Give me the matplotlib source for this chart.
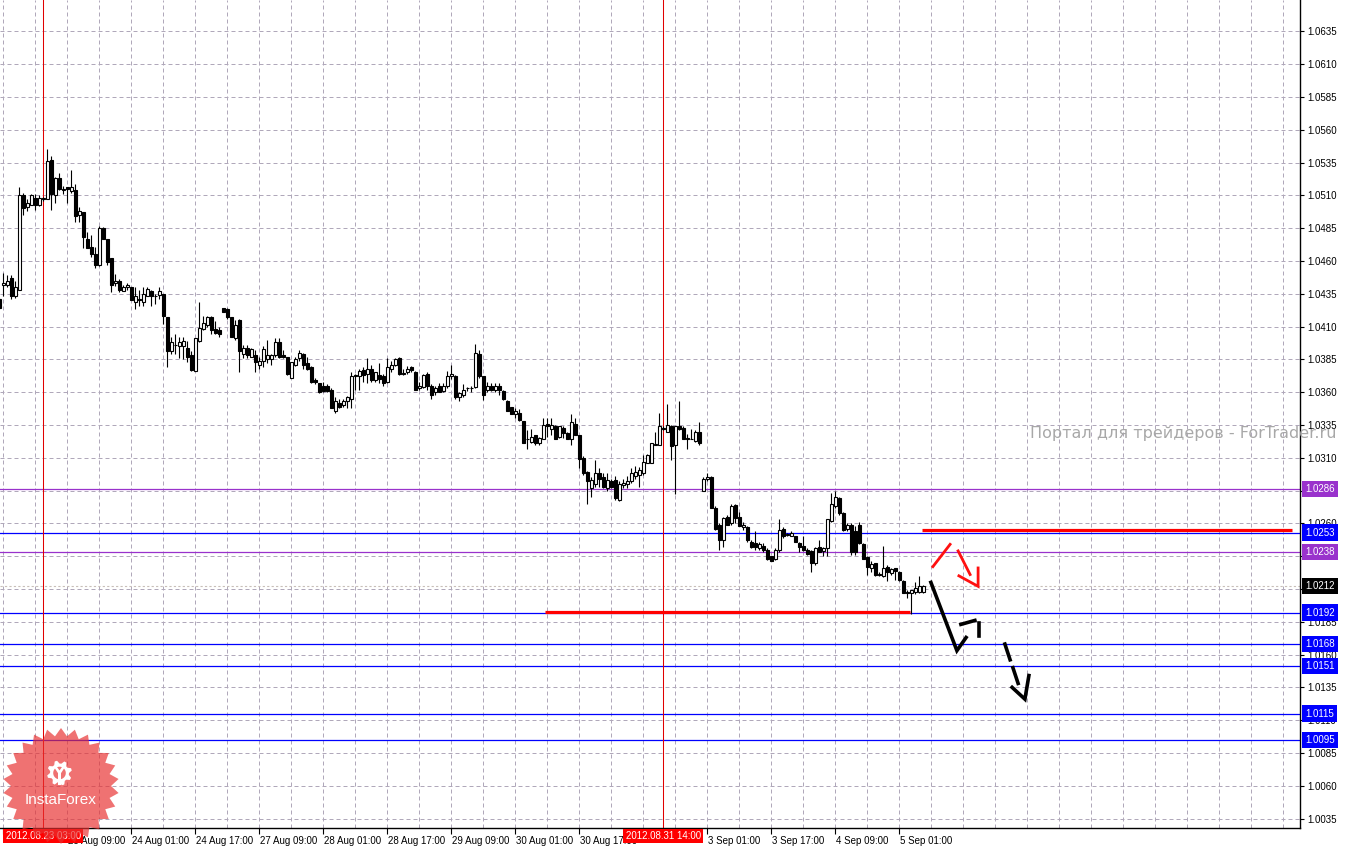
import matplotlib
matplotlib.use("Agg")
import matplotlib.pyplot as plt
import matplotlib.transforms as mtransforms
from matplotlib.patches import Polygon, Circle
import numpy as np

plt.rcParams['font.family'] = ['Liberation Sans', 'DejaVu Sans']

# hourly candles, 22 Aug 16:00 .. 5 Sep 06:00 (weekend bars skipped)
opens = [1.0431, 1.0442, 1.0442, 1.0447, 1.0433, 1.0438, 1.0510, 1.0501, 1.0503, 1.0508,
         1.0503, 1.0508, 1.0507, 1.0537, 1.0510, 1.0523, 1.0514, 1.0516, 1.0513, 1.0514,
         1.0495, 1.0497, 1.0477, 1.0471, 1.0465, 1.0457, 1.0485, 1.0477, 1.0462, 1.0443,
         1.0445, 1.0437, 1.0440, 1.0440, 1.0429, 1.0431, 1.0429, 1.0433, 1.0437, 1.0433,
         1.0434, 1.0435, 1.0417, 1.0391, 1.0396, 1.0395, 1.0395, 1.0394, 1.0388, 1.0376,
         1.0399, 1.0408, 1.0411, 1.0417, 1.0408, 1.0407, 1.0424, 1.0423, 1.0417, 1.0401,
         1.0415, 1.0389, 1.0394, 1.0387, 1.0388, 1.0381, 1.0384, 1.0385, 1.0385, 1.0388,
         1.0398, 1.0388, 1.0387, 1.0371, 1.0381, 1.0386, 1.0389, 1.0382, 1.0379, 1.0369,
         1.0367, 1.0365, 1.0365, 1.0362, 1.0346, 1.0352, 1.0350, 1.0353, 1.0355, 1.0373,
         1.0372, 1.0377, 1.0374, 1.0378, 1.0369, 1.0373, 1.0372, 1.0368, 1.0378, 1.0381,
         1.0386, 1.0374, 1.0375, 1.0379, 1.0375, 1.0363, 1.0364, 1.0374, 1.0365, 1.0360,
         1.0365, 1.0361, 1.0365, 1.0372, 1.0372, 1.0356, 1.0358, 1.0363, 1.0363, 1.0364,
         1.0389, 1.0372, 1.0362, 1.0365, 1.0362, 1.0365, 1.0361, 1.0353, 1.0349, 1.0343,
         1.0344, 1.0338, 1.0324, 1.0322, 1.0327, 1.0321, 1.0324, 1.0336, 1.0332, 1.0334,
         1.0326, 1.0333, 1.0329, 1.0324, 1.0336, 1.0327, 1.0310, 1.0299, 1.0287, 1.0290,
         1.0298, 1.0295, 1.0287, 1.0292, 1.0293, 1.0278, 1.0289, 1.0290, 1.0292, 1.0296,
         1.0297, 1.0298, 1.0306, 1.0306, 1.0320, 1.0320, 1.0333, 1.0330, 1.0334, 1.0320,
         1.0334, 1.0333, 1.0325, 1.0324, 1.0323, 1.0330, 1.0285, 1.0294, 1.0295, 1.0272,
         1.0259, 1.0247, 1.0265, 1.0260, 1.0274, 1.0265, 1.0257, 1.0257, 1.0246, 1.0245,
         1.0241, 1.0243, 1.0240, 1.0235, 1.0233, 1.0240, 1.0256, 1.0251, 1.0250, 1.0250,
         1.0245, 1.0243, 1.0240, 1.0239, 1.0230, 1.0242, 1.0239, 1.0241, 1.0262, 1.0273,
         1.0279, 1.0268, 1.0256, 1.0259, 1.0254, 1.0259, 1.0244, 1.0234, 1.0226, 1.0230,
         1.0221, 1.0220, 1.0227, 1.0222, 1.0226, 1.0223, 1.0216, 1.0208, 1.0207, 1.0208,
         1.0208, 1.0208]
highs = [1.0432, 1.0451, 1.0449, 1.0449, 1.0445, 1.0516, 1.0512, 1.0507, 1.0511, 1.0511,
         1.0510, 1.0509, 1.0545, 1.0540, 1.0524, 1.0527, 1.0517, 1.0516, 1.0529, 1.0519,
         1.0501, 1.0497, 1.0482, 1.0480, 1.0471, 1.0487, 1.0486, 1.0477, 1.0462, 1.0450,
         1.0446, 1.0442, 1.0443, 1.0440, 1.0440, 1.0438, 1.0440, 1.0440, 1.0438, 1.0435,
         1.0440, 1.0435, 1.0417, 1.0402, 1.0404, 1.0402, 1.0402, 1.0399, 1.0391, 1.0401,
         1.0429, 1.0418, 1.0418, 1.0418, 1.0414, 1.0410, 1.0424, 1.0424, 1.0417, 1.0415,
         1.0416, 1.0396, 1.0396, 1.0394, 1.0392, 1.0387, 1.0395, 1.0400, 1.0389, 1.0401,
         1.0401, 1.0392, 1.0387, 1.0383, 1.0387, 1.0392, 1.0390, 1.0387, 1.0380, 1.0371,
         1.0367, 1.0368, 1.0366, 1.0363, 1.0356, 1.0355, 1.0355, 1.0357, 1.0375, 1.0374,
         1.0378, 1.0379, 1.0386, 1.0381, 1.0375, 1.0382, 1.0374, 1.0386, 1.0384, 1.0386,
         1.0387, 1.0378, 1.0380, 1.0380, 1.0376, 1.0368, 1.0374, 1.0375, 1.0366, 1.0365,
         1.0367, 1.0367, 1.0376, 1.0381, 1.0373, 1.0360, 1.0366, 1.0364, 1.0365, 1.0397,
         1.0392, 1.0372, 1.0368, 1.0367, 1.0367, 1.0367, 1.0362, 1.0354, 1.0349, 1.0348,
         1.0347, 1.0338, 1.0331, 1.0332, 1.0327, 1.0326, 1.0340, 1.0340, 1.0340, 1.0335,
         1.0334, 1.0334, 1.0330, 1.0343, 1.0340, 1.0327, 1.0311, 1.0300, 1.0295, 1.0308,
         1.0302, 1.0298, 1.0298, 1.0294, 1.0296, 1.0292, 1.0294, 1.0296, 1.0302, 1.0304,
         1.0303, 1.0312, 1.0313, 1.0321, 1.0330, 1.0344, 1.0334, 1.0351, 1.0335, 1.0334,
         1.0353, 1.0334, 1.0328, 1.0332, 1.0331, 1.0337, 1.0295, 1.0298, 1.0296, 1.0273,
         1.0260, 1.0265, 1.0266, 1.0275, 1.0275, 1.0269, 1.0261, 1.0258, 1.0247, 1.0254,
         1.0246, 1.0245, 1.0241, 1.0235, 1.0241, 1.0263, 1.0257, 1.0253, 1.0254, 1.0250,
         1.0246, 1.0250, 1.0241, 1.0240, 1.0242, 1.0247, 1.0242, 1.0263, 1.0283, 1.0285,
         1.0280, 1.0269, 1.0260, 1.0260, 1.0258, 1.0261, 1.0245, 1.0235, 1.0231, 1.0230,
         1.0223, 1.0243, 1.0228, 1.0226, 1.0226, 1.0224, 1.0217, 1.0209, 1.0209, 1.0215,
         1.0220, 1.0213]
lows = [1.0423, 1.0433, 1.0440, 1.0431, 1.0432, 1.0438, 1.0495, 1.0498, 1.0503, 1.0499,
        1.0502, 1.0506, 1.0507, 1.0499, 1.0504, 1.0514, 1.0511, 1.0504, 1.0512, 1.0490,
        1.0490, 1.0470, 1.0470, 1.0463, 1.0455, 1.0456, 1.0477, 1.0457, 1.0436, 1.0441,
        1.0436, 1.0437, 1.0438, 1.0430, 1.0423, 1.0426, 1.0426, 1.0433, 1.0426, 1.0427,
        1.0431, 1.0412, 1.0379, 1.0389, 1.0389, 1.0386, 1.0385, 1.0383, 1.0376, 1.0376,
        1.0398, 1.0407, 1.0410, 1.0404, 1.0404, 1.0402, 1.0421, 1.0416, 1.0402, 1.0400,
        1.0375, 1.0386, 1.0386, 1.0387, 1.0375, 1.0378, 1.0379, 1.0382, 1.0381, 1.0387,
        1.0386, 1.0386, 1.0373, 1.0371, 1.0380, 1.0384, 1.0378, 1.0377, 1.0367, 1.0366,
        1.0359, 1.0360, 1.0360, 1.0348, 1.0344, 1.0348, 1.0349, 1.0348, 1.0348, 1.0362,
        1.0362, 1.0368, 1.0367, 1.0368, 1.0368, 1.0367, 1.0365, 1.0367, 1.0375, 1.0380,
        1.0373, 1.0373, 1.0374, 1.0375, 1.0362, 1.0362, 1.0363, 1.0362, 1.0355, 1.0358,
        1.0360, 1.0360, 1.0363, 1.0370, 1.0355, 1.0353, 1.0356, 1.0361, 1.0360, 1.0363,
        1.0371, 1.0354, 1.0360, 1.0361, 1.0360, 1.0358, 1.0354, 1.0346, 1.0343, 1.0340,
        1.0338, 1.0321, 1.0317, 1.0321, 1.0320, 1.0320, 1.0324, 1.0326, 1.0327, 1.0324,
        1.0325, 1.0325, 1.0324, 1.0320, 1.0327, 1.0302, 1.0297, 1.0275, 1.0280, 1.0288,
        1.0288, 1.0287, 1.0285, 1.0287, 1.0278, 1.0277, 1.0287, 1.0287, 1.0291, 1.0294,
        1.0288, 1.0297, 1.0306, 1.0306, 1.0320, 1.0320, 1.0331, 1.0330, 1.0308, 1.0282,
        1.0331, 1.0324, 1.0317, 1.0324, 1.0322, 1.0320, 1.0285, 1.0292, 1.0272, 1.0255,
        1.0240, 1.0242, 1.0259, 1.0259, 1.0260, 1.0258, 1.0255, 1.0246, 1.0241, 1.0240,
        1.0240, 1.0238, 1.0232, 1.0231, 1.0232, 1.0238, 1.0249, 1.0250, 1.0250, 1.0246,
        1.0238, 1.0239, 1.0236, 1.0223, 1.0228, 1.0238, 1.0235, 1.0235, 1.0261, 1.0272,
        1.0266, 1.0254, 1.0254, 1.0236, 1.0236, 1.0244, 1.0233, 1.0221, 1.0223, 1.0220,
        1.0220, 1.0219, 1.0216, 1.0221, 1.0217, 1.0216, 1.0207, 1.0203, 1.0191, 1.0206,
        1.0207, 1.0207]
closes = [1.0424, 1.0443, 1.0445, 1.0433, 1.0440, 1.0510, 1.0500, 1.0504, 1.0510, 1.0503,
          1.0508, 1.0507, 1.0536, 1.0511, 1.0523, 1.0515, 1.0515, 1.0515, 1.0516, 1.0494,
          1.0498, 1.0478, 1.0470, 1.0465, 1.0457, 1.0485, 1.0477, 1.0459, 1.0442, 1.0445,
          1.0438, 1.0440, 1.0442, 1.0430, 1.0433, 1.0430, 1.0435, 1.0439, 1.0433, 1.0433,
          1.0437, 1.0418, 1.0391, 1.0398, 1.0396, 1.0398, 1.0399, 1.0387, 1.0377, 1.0401,
          1.0409, 1.0413, 1.0417, 1.0407, 1.0405, 1.0404, 1.0421, 1.0417, 1.0402, 1.0411,
          1.0391, 1.0394, 1.0388, 1.0393, 1.0383, 1.0384, 1.0393, 1.0388, 1.0388, 1.0398,
          1.0387, 1.0387, 1.0374, 1.0383, 1.0385, 1.0390, 1.0381, 1.0378, 1.0368, 1.0368,
          1.0360, 1.0361, 1.0361, 1.0348, 1.0353, 1.0349, 1.0353, 1.0356, 1.0372, 1.0372,
          1.0376, 1.0373, 1.0378, 1.0369, 1.0375, 1.0370, 1.0367, 1.0379, 1.0381, 1.0385,
          1.0374, 1.0374, 1.0378, 1.0377, 1.0362, 1.0365, 1.0373, 1.0365, 1.0358, 1.0363,
          1.0360, 1.0365, 1.0372, 1.0374, 1.0356, 1.0359, 1.0362, 1.0363, 1.0363, 1.0390,
          1.0372, 1.0358, 1.0365, 1.0362, 1.0365, 1.0362, 1.0355, 1.0346, 1.0343, 1.0346,
          1.0339, 1.0321, 1.0324, 1.0326, 1.0321, 1.0325, 1.0335, 1.0334, 1.0335, 1.0324,
          1.0334, 1.0329, 1.0324, 1.0337, 1.0327, 1.0309, 1.0298, 1.0292, 1.0293, 1.0298,
          1.0294, 1.0288, 1.0293, 1.0288, 1.0279, 1.0290, 1.0291, 1.0292, 1.0298, 1.0299,
          1.0301, 1.0307, 1.0312, 1.0321, 1.0320, 1.0334, 1.0332, 1.0335, 1.0319, 1.0334,
          1.0332, 1.0324, 1.0324, 1.0324, 1.0330, 1.0321, 1.0294, 1.0295, 1.0272, 1.0256,
          1.0247, 1.0264, 1.0259, 1.0273, 1.0264, 1.0258, 1.0259, 1.0247, 1.0242, 1.0242,
          1.0244, 1.0240, 1.0233, 1.0231, 1.0240, 1.0255, 1.0250, 1.0252, 1.0253, 1.0246,
          1.0242, 1.0240, 1.0237, 1.0230, 1.0241, 1.0238, 1.0241, 1.0263, 1.0275, 1.0280,
          1.0268, 1.0255, 1.0259, 1.0238, 1.0238, 1.0245, 1.0233, 1.0227, 1.0229, 1.0221,
          1.0221, 1.0226, 1.0223, 1.0225, 1.0224, 1.0217, 1.0207, 1.0207, 1.0209, 1.0211,
          1.0212, 1.0212]

# time ticks every 16 bars; the two covered by the red date boxes stay unlabeled
time_ticks = [1, 17, 33, 49, 65, 81, 97, 113, 129, 145, 161, 177, 193, 209, 225]
time_labels = ['', '23 Aug 09:00', '24 Aug 01:00', '24 Aug 17:00', '27 Aug 09:00',
               '28 Aug 01:00', '28 Aug 17:00', '29 Aug 09:00', '30 Aug 01:00', '30 Aug 17:00',
               '', '3 Sep 01:00', '3 Sep 17:00', '4 Sep 09:00', '5 Sep 01:00']
price_ticks = [1.0035, 1.0060, 1.0085, 1.0110, 1.0135, 1.0160, 1.0185, 1.0210, 1.0235, 1.0260,
               1.0285, 1.0310, 1.0335, 1.0360, 1.0385, 1.0410, 1.0435, 1.0460, 1.0485, 1.0510,
               1.0535, 1.0560, 1.0585, 1.0610, 1.0635]

# horizontal levels and their colours
level_prices = [1.0286, 1.0253, 1.0238, 1.0192, 1.0168, 1.0151, 1.0115, 1.0095]
level_colors = ['#9932cc', '#0000ff', '#9932cc', '#0000ff', '#0000ff', '#0000ff', '#0000ff', '#0000ff']
bid_price = 1.0212

# vertical marker lines
vline_bars = [11, 166]
vline_labels = ['2012.08.23 03:00', '2012.08.31 14:00']

# hand drawn red segments (bar, price)
support_seg = ([136.4, 227.7], [1.01925, 1.01925])
resist_seg = ([230.7, 323.2], [1.0255, 1.0255])

# hand drawn forecast strokes (bar, price)
red_strokes = [([233.4, 237.7], [1.0227, 1.0244]),
               ([239.7, 242.7], [1.0239, 1.0221]),
               ([239.9, 244.7, 244.7], [1.0220, 1.0212, 1.0226])]
black_strokes = [([232.9, 239.4, 241.7], [1.0215, 1.0163, 1.0173]),
                 ([240.4, 243.9], [1.0183, 1.0186]),
                 ([244.9, 244.9], [1.0184, 1.0174]),
                 ([251.4, 252.7], [1.0168, 1.0156]),
                 ([253.4, 254.7], [1.0150, 1.0138]),
                 ([253.2, 256.4, 257.4], [1.0135, 1.0126, 1.0144])]

W, H = 1346, 847
fig = plt.figure(figsize=(W / 100, H / 100), dpi=100)
ax = fig.add_axes([0, 19 / H, 1300 / W, 828 / H])
ax.set_xlim(0.175, 325.175)
ax.set_ylim(1.00278, 1.06589)

grid_c = '#b0a8ba'
for b in range(1, 326, 8):
    ax.axvline(b, color=grid_c, lw=0.72, dashes=(4, 3), zorder=0)
for p in price_ticks:
    ax.axhline(p, color=grid_c, lw=0.72, dashes=(4, 3), zorder=0)

# candles
x = np.arange(len(opens))
o = np.array(opens)
c = np.array(closes)
up = c >= o
body_bottom = np.minimum(o, c)
body_h = np.maximum(np.abs(c - o), 0.00003)
ax.vlines(x, lows, highs, color='black', lw=0.8, zorder=3)
ax.bar(x[up], body_h[up], width=0.62, bottom=body_bottom[up], facecolor='white',
       edgecolor='black', linewidth=0.8, zorder=4)
ax.bar(x[~up], body_h[~up], width=0.62, bottom=body_bottom[~up], facecolor='black',
       edgecolor='black', linewidth=0.8, zorder=4)

# levels
ytr = ax.get_yaxis_transform()
for p, col in zip(level_prices, level_colors):
    ax.axhline(p, color=col, lw=0.9, zorder=2)
    ax.text(1.0038, p, f'{p:.4f}', transform=ytr, ha='left', va='center', color='white',
            fontsize=7, bbox=dict(boxstyle='square,pad=0.32', fc=col, ec='none'),
            clip_on=False, zorder=10)
ax.axhline(bid_price, color='#c8bfb8', lw=0.8, dashes=(2, 2), zorder=1)
ax.text(1.0038, bid_price, f'{bid_price:.4f}', transform=ytr, ha='left', va='center',
        color='white', fontsize=7, bbox=dict(boxstyle='square,pad=0.32', fc='black', ec='none'),
        clip_on=False, zorder=10)

# vertical lines with date boxes
xtr = ax.get_xaxis_transform()
for b, lab in zip(vline_bars, vline_labels):
    ax.axvline(b, color='#e00000', lw=0.75, zorder=2)
    ax.text(b, -0.0097, lab, transform=xtr, ha='center', va='center', color='white',
            fontsize=7, bbox=dict(boxstyle='square,pad=0.25', fc='#ff0000', ec='none'),
            clip_on=False, zorder=10)

ax.plot(*support_seg, color='#ff0000', lw=2.3, solid_capstyle='butt', zorder=5)
ax.plot(*resist_seg, color='#ff0000', lw=2.3, solid_capstyle='butt', zorder=5)
for xs, ys in red_strokes:
    ax.plot(xs, ys, color='#ff1010', lw=2.0, solid_joinstyle='miter', zorder=6)
for xs, ys in black_strokes:
    ax.plot(xs, ys, color='black', lw=2.6, solid_joinstyle='miter', zorder=6)

# axes styling
for s in ['top', 'left']:
    ax.spines[s].set_visible(False)
for s in ['right', 'bottom']:
    ax.spines[s].set_linewidth(1.0)
ax.yaxis.tick_right()
ax.set_yticks(price_ticks)
ax.set_yticklabels([f'{p:.4f}' for p in price_ticks])
ax.tick_params(axis='y', length=3, width=0.8, pad=2, labelsize=7, direction='out')
ax.set_xticks(time_ticks)
ax.set_xticklabels(time_labels)
ax.tick_params(axis='x', length=4, width=0.8, pad=1.5, labelsize=7, direction='out')
shift = mtransforms.ScaledTranslation(1 / 100, 0, fig.dpi_scale_trans)
for lab in ax.get_xticklabels():
    lab.set_ha('left')
    lab.set_transform(lab.get_transform() + shift)

# watermark
fig.text(1030 / W, 1 - 433 / H, 'Портал для трейдеров - ForTrader.ru', color='#a8a8a8',
         fontsize=11.5, ha='left', va='center', family='DejaVu Sans')


def fig_pts(px, py):
    return np.column_stack([np.asarray(px) / W, 1 - np.asarray(py) / H])


# InstaForex badge
cx, cy, r_out, r_in, n = 61, 786, 58, 50, 26
ang = np.linspace(0, 2 * np.pi, 2 * n, endpoint=False) + np.pi / 2
rr = np.where(np.arange(2 * n) % 2 == 0, r_out, r_in)
fig.add_artist(Polygon(fig_pts(cx + rr * np.cos(ang), cy - rr * np.sin(ang)), closed=True,
                       transform=fig.transFigure, fc='#e83030', ec='none', alpha=0.68, zorder=20))
# gear icon
gx, gy = 59.5, 773
ga = np.linspace(0, 2 * np.pi, 32, endpoint=False) + np.pi / 16
gr = np.where((np.arange(32) // 2) % 2 == 0, 12.5, 9.5)
fig.add_artist(Polygon(fig_pts(gx + gr * np.cos(ga), gy - gr * np.sin(ga)), closed=True,
                       transform=fig.transFigure, fc='white', ec='none', zorder=21))
ha_ = np.linspace(0, 2 * np.pi, 40, endpoint=False)
fig.add_artist(Polygon(fig_pts(gx + 6.3 * np.cos(ha_), gy - 6.3 * np.sin(ha_)), closed=True,
                       transform=fig.transFigure, fc='#ef7272', ec='none', zorder=22))
fig.add_artist(Polygon(fig_pts([gx - 1.6, gx + 1.6, gx + 1.6, gx - 1.6],
                               [gy - 1, gy - 1, gy + 12, gy + 12]), closed=True,
                       transform=fig.transFigure, fc='white', ec='none', zorder=23))
fig.add_artist(Polygon(fig_pts([gx - 5.5, gx - 2.5, gx, gx + 2.5, gx + 5.5, gx + 1.6, gx - 1.6],
                               [gy - 6, gy - 6, gy - 2.5, gy - 6, gy - 6, gy, gy]), closed=True,
                       transform=fig.transFigure, fc='white', ec='none', zorder=23))
fig.text(cx / W, 1 - 800 / H, 'InstaForex', color='white', fontsize=11, ha='center',
         va='center', zorder=24)

fig.savefig('out.png', dpi=100, facecolor='white')
